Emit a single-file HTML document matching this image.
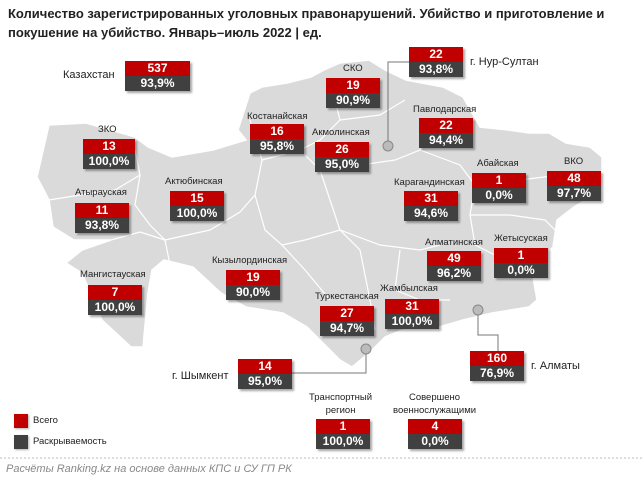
<!DOCTYPE html>
<html><head><meta charset="utf-8"><style>
*{margin:0;padding:0;box-sizing:border-box}
body{width:642px;height:482px;background:#fff;position:relative;overflow:hidden;font-family:"Liberation Sans",sans-serif}
.t{position:absolute;left:8px;top:4px;font-weight:bold;font-size:13px;line-height:19px;color:#222}
.b{position:absolute;width:54px;height:30px;box-shadow:2px 2px 2px rgba(0,0,0,.35);font-weight:bold;font-size:12px;color:#fff;text-align:center}
.b div{height:15px;line-height:15px}
.b .r{background:#c00000}.b .d{background:#404040}
.l{position:absolute;font-size:9.5px;color:#222;white-space:nowrap}
.l2{position:absolute;font-size:11px;color:#222;white-space:nowrap}
</style></head><body>
<div class="t">Количество зарегистрированных уголовных правонарушений. Убийство и приготовление и<br>покушение на убийство. Январь–июль 2022 | ед.</div>
<svg style="position:absolute;left:0;top:0" width="642" height="482">
<path d="M37,177 L49,125 L86,123 L135,137 L148,147 L172,157 L213,150 L246,140 L238,130 L250,93 L262,87 L287,83 L311,77 L324,70 L340,63 L369,60 L385,70 L406,80 L443,87 L463,97 L480,127 L508,130 L529,133 L549,133 L566,143 L590,147 L602,157 L602,170 L590,197 L574,207 L557,220 L553,247 L541,260 L533,277 L537,300 L529,307 L492,313 L463,320 L439,327 L402,330 L385,337 L369,353 L352,367 L340,360 L320,340 L307,327 L283,313 L246,307 L221,293 L193,267 L164,260 L152,270 L148,293 L143,347 L131,347 L102,320 L82,273 L66,263 L82,250 L111,240 L74,240 L53,227 L49,200 Z" fill="#dadada" stroke="#fff" stroke-width="1.5"/>
<g stroke="#fff" stroke-width="1.2" fill="none">
<path d="M135,150 L140,175 L135,205 L150,225 L165,240"/><path d="M49,200 L80,195 L115,190 L140,175"/>
<path d="M111,240 L140,232 L165,240 L170,265"/>
<path d="M165,240 L210,230 L240,212 L255,195 L262,160 L250,120"/>
<path d="M255,195 L265,230 L282,245 L305,270 L330,300"/>
<path d="M262,160 L300,150 L320,140 L340,120 L330,80"/><path d="M340,120 L380,115 L405,100"/>
<path d="M300,150 L320,170 L330,200 L340,230 L360,250"/>
<path d="M320,170 L360,165 L395,160 L420,150 L430,130"/>
<path d="M282,245 L305,240 L340,230 L380,245 L420,250 L440,245"/>
<path d="M420,150 L460,165 L475,185 L470,215 L475,245"/><path d="M475,185 L520,180 L560,175"/>
<path d="M470,215 L510,215 L545,220 L555,230"/>
<path d="M400,250 L395,290 L420,300 L450,300"/><path d="M475,245 L495,255 L520,270 L535,277"/>
<path d="M360,250 L370,300 L375,330"/>
</g>
<g stroke="#777" stroke-width="1" fill="none">
<path d="M388,145 L388,62 L409,62"/><path d="M366,350 L366,373 L292,373"/><path d="M478,310 L478,335 L498,335 L498,351"/>
</g>
<circle cx="388" cy="146" r="5" fill="#bbb" stroke="#888"/>
<circle cx="366" cy="349" r="5" fill="#bbb" stroke="#888"/>
<circle cx="478" cy="310" r="5" fill="#bbb" stroke="#888"/>
<line x1="0" y1="458" x2="642" y2="458" stroke="#bbb" stroke-dasharray="2,2"/>
</svg>
<div class="l2" style="left:63px;top:69px">Казахстан</div>
<div class="b" style="left:125px;top:61px;width:65px"><div class="r">537</div><div class="d">93,9%</div></div>
<div class="l" style="left:98px;top:124px">ЗКО</div>
<div class="b" style="left:83px;top:139px;width:52px"><div class="r">13</div><div class="d">100,0%</div></div>
<div class="l" style="left:75px;top:187px">Атырауская</div>
<div class="b" style="left:75px;top:203px"><div class="r">11</div><div class="d">93,8%</div></div>
<div class="l" style="left:165px;top:176px">Актюбинская</div>
<div class="b" style="left:170px;top:191px"><div class="r">15</div><div class="d">100,0%</div></div>
<div class="l" style="left:80px;top:269px">Мангистауская</div>
<div class="b" style="left:88px;top:285px"><div class="r">7</div><div class="d">100,0%</div></div>
<div class="l" style="left:247px;top:111px">Костанайская</div>
<div class="b" style="left:250px;top:124px"><div class="r">16</div><div class="d">95,8%</div></div>
<div class="l" style="left:312px;top:127px">Акмолинская</div>
<div class="b" style="left:315px;top:142px"><div class="r">26</div><div class="d">95,0%</div></div>
<div class="l" style="left:343px;top:63px">СКО</div>
<div class="b" style="left:326px;top:78px"><div class="r">19</div><div class="d">90,9%</div></div>
<div class="b" style="left:409px;top:47px"><div class="r">22</div><div class="d">93,8%</div></div>
<div class="l2" style="left:470px;top:56px">г. Нур-Султан</div>
<div class="l" style="left:413px;top:104px">Павлодарская</div>
<div class="b" style="left:419px;top:118px"><div class="r">22</div><div class="d">94,4%</div></div>
<div class="l" style="left:477px;top:158px">Абайская</div>
<div class="b" style="left:472px;top:173px"><div class="r">1</div><div class="d">0,0%</div></div>
<div class="l" style="left:564px;top:156px">ВКО</div>
<div class="b" style="left:547px;top:171px"><div class="r">48</div><div class="d">97,7%</div></div>
<div class="l" style="left:394px;top:177px">Карагандинская</div>
<div class="b" style="left:404px;top:191px"><div class="r">31</div><div class="d">94,6%</div></div>
<div class="l" style="left:212px;top:255px">Кызылординская</div>
<div class="b" style="left:226px;top:270px"><div class="r">19</div><div class="d">90,0%</div></div>
<div class="l" style="left:494px;top:233px">Жетысуская</div>
<div class="b" style="left:494px;top:248px"><div class="r">1</div><div class="d">0,0%</div></div>
<div class="l" style="left:425px;top:237px">Алматинская</div>
<div class="b" style="left:427px;top:251px"><div class="r">49</div><div class="d">96,2%</div></div>
<div class="l" style="left:315px;top:291px">Туркестанская</div>
<div class="b" style="left:320px;top:306px"><div class="r">27</div><div class="d">94,7%</div></div>
<div class="l" style="left:380px;top:283px">Жамбылская</div>
<div class="b" style="left:385px;top:299px"><div class="r">31</div><div class="d">100,0%</div></div>
<div class="l2" style="left:172px;top:370px">г. Шымкент</div>
<div class="b" style="left:238px;top:359px"><div class="r">14</div><div class="d">95,0%</div></div>
<div class="b" style="left:470px;top:351px"><div class="r">160</div><div class="d">76,9%</div></div>
<div class="l2" style="left:531px;top:360px">г. Алматы</div>
<div class="l" style="left:309px;top:391px;text-align:center;line-height:13px">Транспортный<br>регион</div>
<div class="b" style="left:316px;top:419px"><div class="r">1</div><div class="d">100,0%</div></div>
<div class="l" style="left:393px;top:391px;text-align:center;line-height:13px">Совершено<br>военнослужащими</div>
<div class="b" style="left:408px;top:419px"><div class="r">4</div><div class="d">0,0%</div></div>
<div style="position:absolute;left:14px;top:414px;width:14px;height:14px;background:#c00000;box-shadow:1px 1px 2px rgba(0,0,0,.3)"></div>
<div class="l" style="left:33px;top:415px">Всего</div>
<div style="position:absolute;left:14px;top:435px;width:14px;height:14px;background:#404040;box-shadow:1px 1px 2px rgba(0,0,0,.3)"></div>
<div class="l" style="left:33px;top:436px">Раскрываемость</div>
<div style="position:absolute;left:6px;top:463px;font-size:11px;font-style:italic;color:#888">Расчёты Ranking.kz на основе данных КПС и СУ ГП РК</div>
</body></html>
